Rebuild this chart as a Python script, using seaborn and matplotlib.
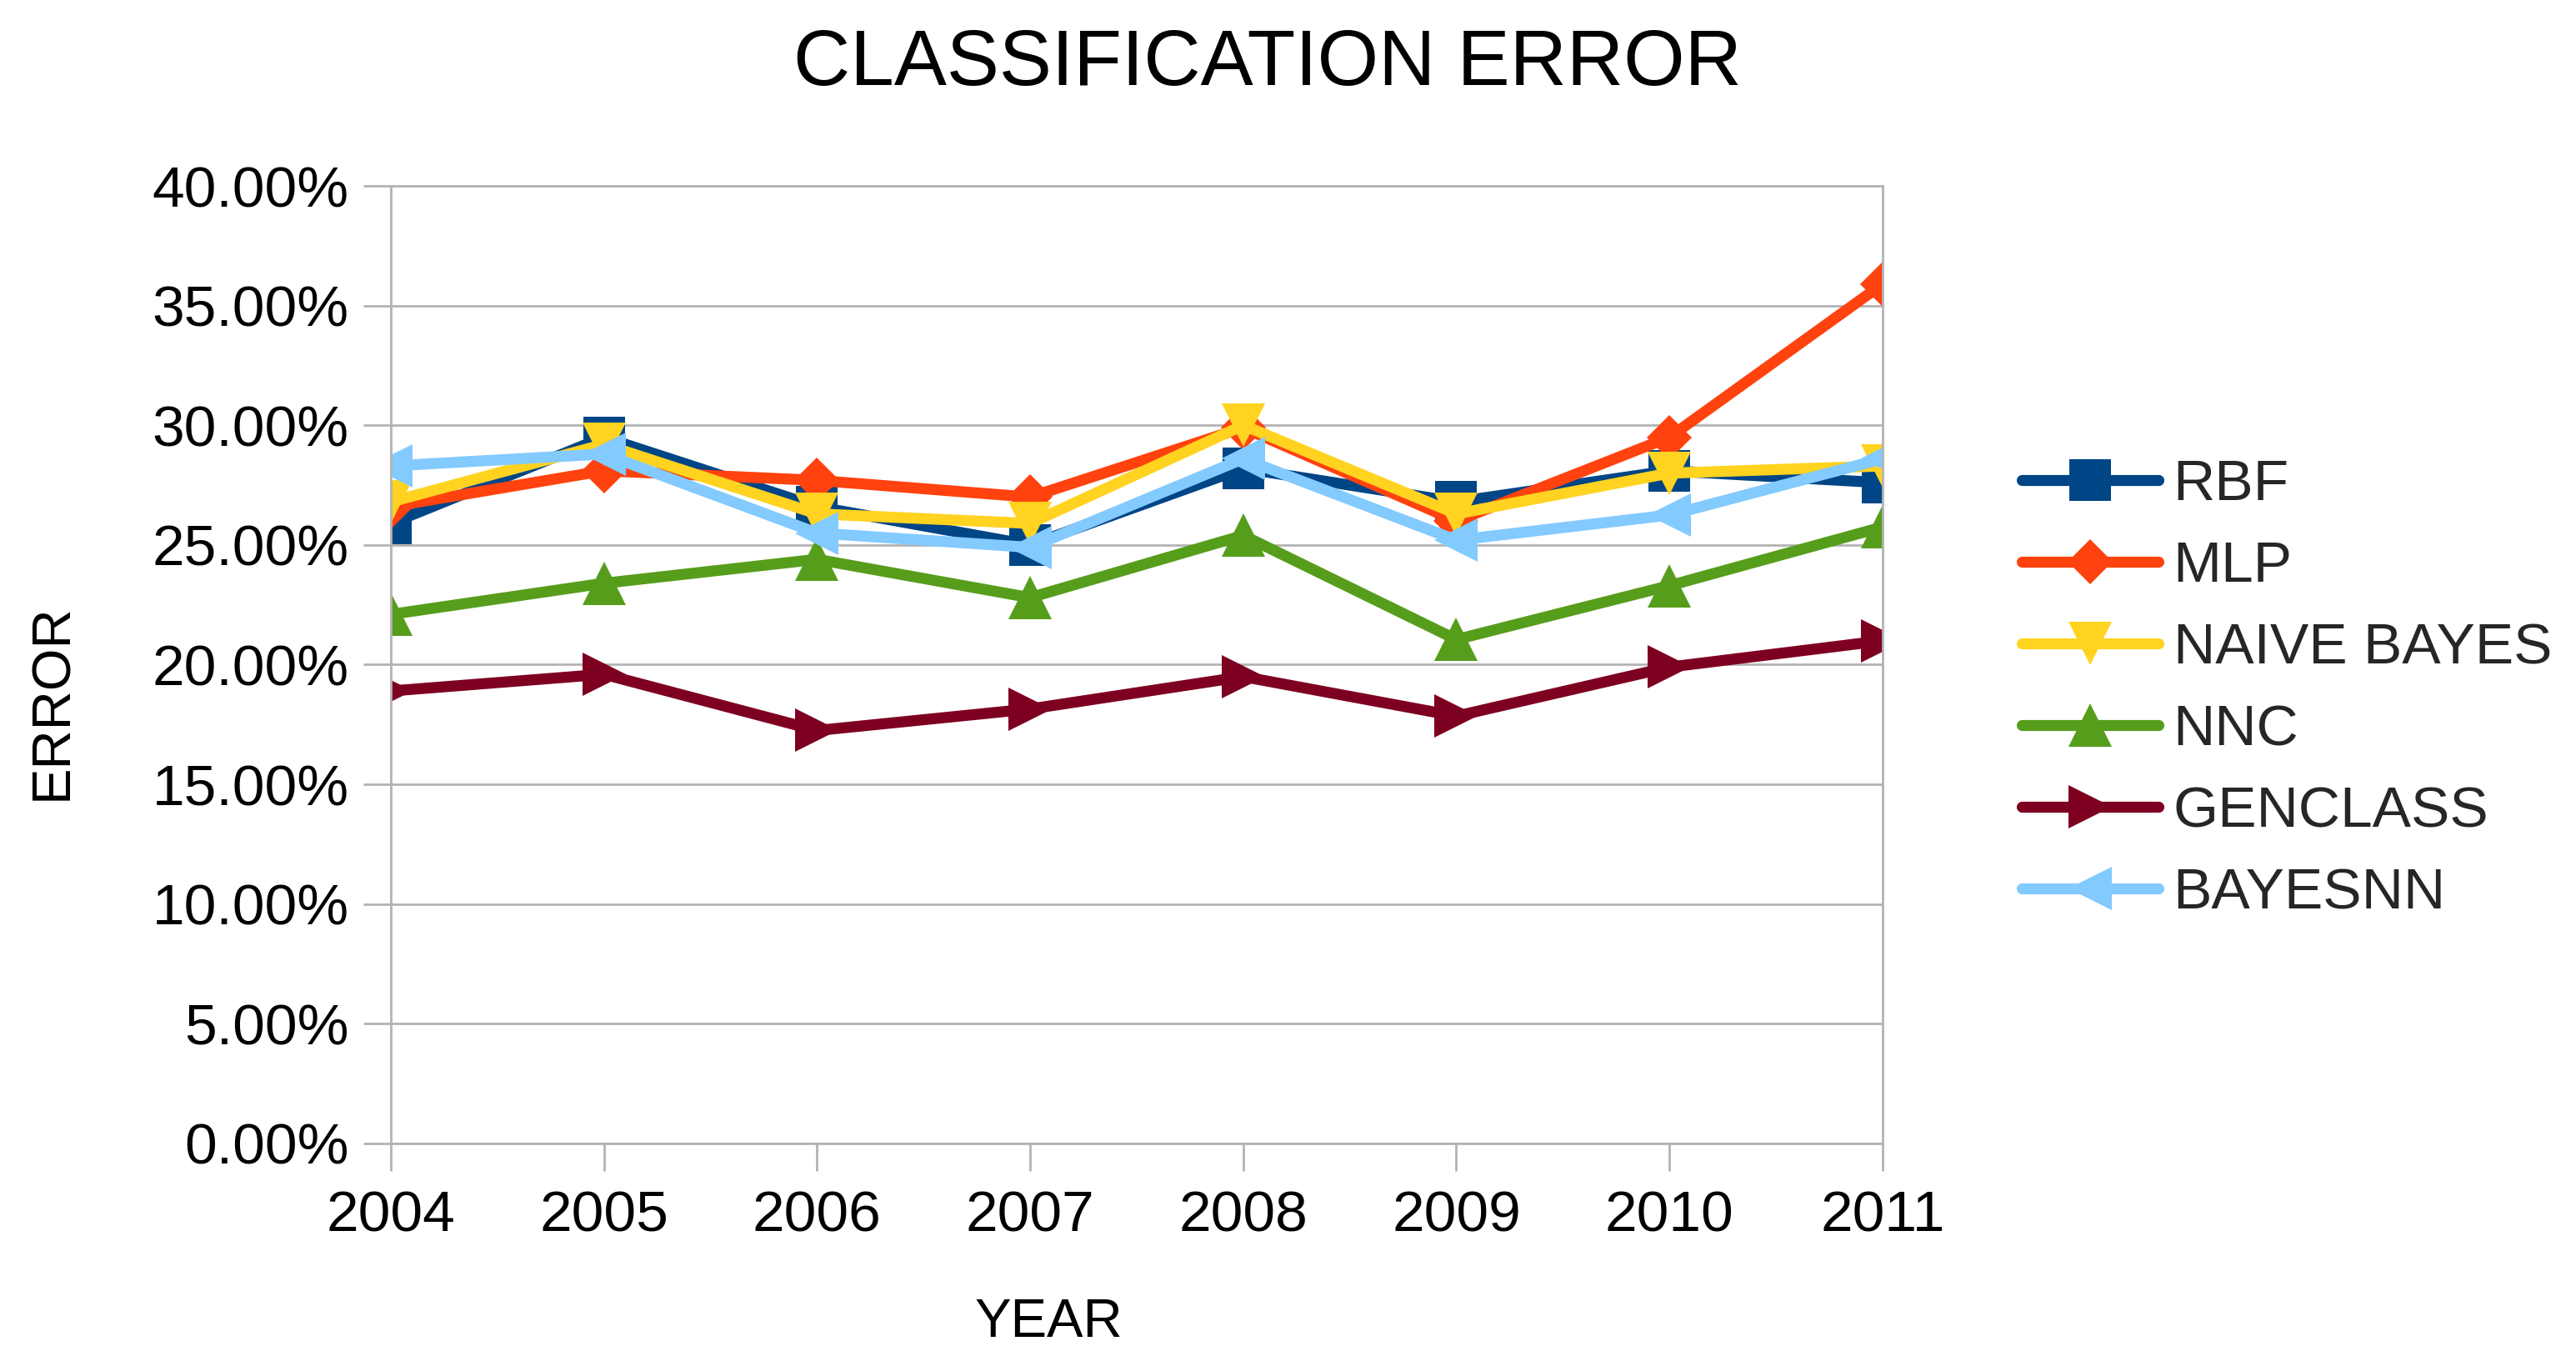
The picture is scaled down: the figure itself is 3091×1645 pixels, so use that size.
import matplotlib
matplotlib.use("Agg")
import matplotlib.pyplot as plt
from matplotlib.ticker import PercentFormatter
import seaborn as sns
import pandas as pd

years = [2004, 2005, 2006, 2007, 2008, 2009, 2010, 2011]
rbf = [25.9, 29.5, 26.6, 25.0, 28.2, 26.8, 28.1, 27.6]
mlp = [26.6, 28.1, 27.7, 27.0, 29.9, 26.0, 29.5, 35.9]
naive_bayes = [26.8, 29.2, 26.3, 25.9, 30.0, 26.3, 28.0, 28.3]
nnc = [22.1, 23.4, 24.4, 22.8, 25.4, 21.05, 23.3, 25.75]
genclass = [18.9, 19.6, 17.25, 18.15, 19.5, 17.85, 19.9, 21.0]
bayesnn = [28.3, 28.8, 25.5, 24.9, 28.6, 25.2, 26.25, 28.6]

series_names = ["RBF", "MLP", "NAIVE BAYES", "NNC", "GENCLASS", "BAYESNN"]
series_values = [rbf, mlp, naive_bayes, nnc, genclass, bayesnn]
colors = ["#004586", "#FF420E", "#FFD320", "#579D1C", "#7E0021", "#83CAFF"]
markers = ["s", "D", "v", "^", ">", "<"]
msizes = [36, 27, 38, 38, 38, 38]

yticks = [0, 5, 10, 15, 20, 25, 30, 35, 40]

sns.set_theme(style="white")
plt.rcParams["font.family"] = ["Liberation Sans", "DejaVu Sans"]

df = pd.DataFrame({
    "YEAR": years * len(series_names),
    "ERROR": [v for vals in series_values for v in vals],
    "series": [n for n in series_names for _ in years],
})

fig = plt.figure(figsize=(30.91, 16.45), dpi=100)
ax = fig.add_axes([0.1517, 0.166, 0.5791, 0.6984])

grid_col = "#b3b3b3"
for name, col, mk, ms in zip(series_names, colors, markers, msizes):
    sub = df[df["series"] == name]
    sns.lineplot(data=sub, x="YEAR", y="ERROR", ax=ax, color=col, marker=mk,
                 markersize=ms, markeredgewidth=0, linewidth=9.5, label=name,
                 legend=False)

ax.set_xlim(years[0], years[-1])
ax.set_ylim(yticks[0], yticks[-1])
ax.set_xticks(years)
ax.set_xticklabels([str(y) for y in years])
ax.set_yticks(yticks)
ax.yaxis.set_major_formatter(PercentFormatter(xmax=100, decimals=2))
ax.grid(axis="y", color=grid_col, linewidth=2.0)
ax.grid(axis="x", visible=False)
ax.set_axisbelow(True)
for s in ax.spines.values():
    s.set_color(grid_col)
    s.set_linewidth(2.0)
ax.tick_params(axis="both", which="major", length=24, width=2.0, color=grid_col,
               labelsize=50, labelcolor="black", direction="out")
ax.tick_params(axis="y", pad=12)
ax.tick_params(axis="x", pad=16)
ax.xaxis.set_ticks_position("bottom")
ax.yaxis.set_ticks_position("left")

ax.set_xlabel("YEAR", fontsize=47, color="black")
ax.set_ylabel("ERROR", fontsize=47, color="black")
ax.xaxis.set_label_coords(0.4408, -0.187)
ax.xaxis.label.set_va("center")
ax.yaxis.set_label_coords(-0.2268, 0.461)
ax.yaxis.label.set_va("center")

fig.text(0.492, 0.953, "CLASSIFICATION ERROR", ha="center", va="center",
         fontsize=68, color="black")

handles, labels = ax.get_legend_handles_labels()
fig.legend(handles, labels, loc="center left", bbox_to_anchor=(0.785, 0.497),
           frameon=False, fontsize=50, handlelength=2.35, handletextpad=0.26,
           labelspacing=0.49, borderpad=0, borderaxespad=0)

fig.savefig("out.png", dpi=100, facecolor="white")
